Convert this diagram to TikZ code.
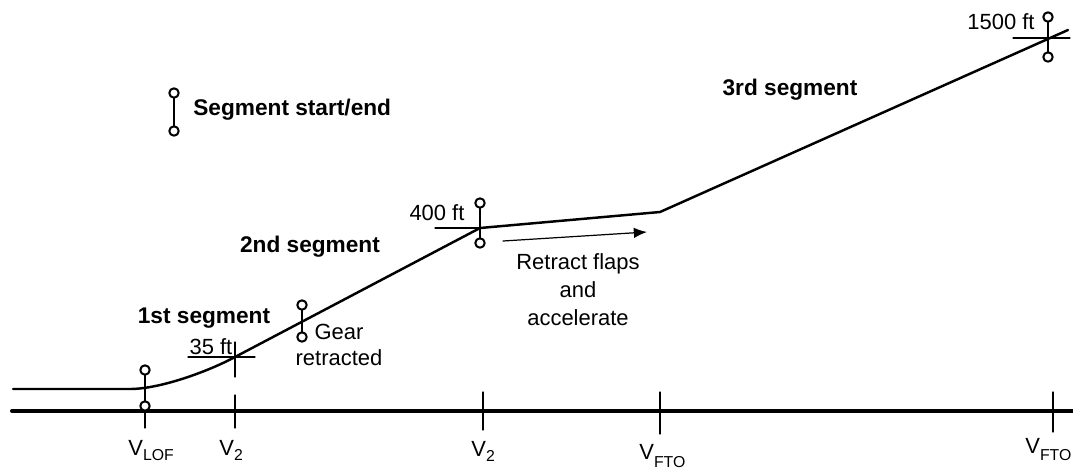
\documentclass[tikz,border=0pt]{standalone}
\usepackage{fontspec}
\setmainfont{Liberation Sans}
\usetikzlibrary{arrows.meta}

\newcommand{\vsub}[2][-3pt]{V\raisebox{#1}{\fontsize{9}{9}\selectfont #2}}

\begin{document}
\begin{tikzpicture}[x=0.02cm,y=-0.02cm,line cap=round,line join=round,
    font=\fontsize{12.5}{15}\selectfont,
    groundline/.style={line width=2.3pt},
    flightpath/.style={line width=1.4pt},
    tickline/.style={line width=0.65pt},
    markline/.style={line width=1.4pt},
    ring/.style={line width=1.15pt,fill=white},
    seglabel/.style={inner sep=0pt,font=\fontsize{12.9}{15}\selectfont\bfseries},
    note/.style={inner sep=0pt,align=center}]
        \useasboundingbox (0,0) rectangle (1073,471);

        % Suelo y trayectoria
        \draw[groundline] (12,411) -- (1073,411);
        \draw[flightpath] (13,389) -- (130,389)
            .. controls (160,389) and (208,371.5) .. (235,357)
            -- (480,228) -- (660,212) -- (1068,30);

        % Marcas de velocidad
        \draw[tickline] (145,406) -- (145,428);
        \draw[tickline] (235,395) -- (235,428);
        \draw[tickline] (483,392) -- (483,430);
        \draw[tickline] (660,392) -- (660,434);
        \draw[tickline] (1053,392) -- (1053,432);
        \node[anchor=base west,inner sep=0pt] (vlof) at (128,455) {\vsub{LOF}};
        \node[anchor=base west,inner sep=0pt] (vtwoa) at (219,455) {\vsub{2}};
        \node[anchor=base west,inner sep=0pt] (vftoa) at (639,459) {\vsub[-5pt]{FTO}};
        \node[anchor=base west,inner sep=0pt] (vtwob) at (471,456) {\vsub{2}};
        \node[anchor=base west,inner sep=0pt] (vftob) at (1025,453) {\vsub[-4pt]{FTO}};

        % Alturas
        \draw[tickline] (188,357) -- (255,357);
        \draw[tickline] (235,342) -- (235,377);
        \node[inner sep=0pt] (h35) at (211,347) {35 ft};
        \draw[tickline] (435,228) -- (480,228);
        \node[inner sep=0pt] (h400) at (437,213) {400 ft};
        \draw[tickline] (1013,38) -- (1070,38);
        \node[inner sep=0pt] (h1500) at (1001,22) {1500 ft};

        % Inicio y fin de segmento
        \draw[markline] (174,93) -- (174,131);
        \draw[ring] (174,93) circle (4.7);
        \draw[ring] (174,131) circle (4.7);
        \node[seglabel,anchor=west] (legend) at (193,110) {Segment start/end};

        \draw[markline] (145,370) -- (145,406);
        \draw[ring] (145,370) circle (4.7);
        \draw[ring] (145,406) circle (4.7);

        \draw[markline] (302,305) -- (302,337);
        \draw[ring] (302,305) circle (4.7);
        \draw[ring] (302,337) circle (4.7);

        \draw[markline] (480,203) -- (480,243);
        \draw[ring] (480,203) circle (4.7);
        \draw[ring] (480,243) circle (4.7);

        \draw[markline] (1048,17) -- (1048,57);
        \draw[ring] (1048,17) circle (4.7);
        \draw[ring] (1048,57) circle (4.7);

        % Segmentos
        \node[seglabel] (seg1) at (204,318) {1st segment};
        \node[seglabel] (seg2) at (310,247) {2nd segment};
        \node[seglabel] (seg3) at (790,90) {3rd segment};

        % Notas
        \node[note,font=\fontsize{12.5}{14.8}\selectfont] (gear) at (339,345) {Gear\\retracted};
        \coordinate (accA) at (503,241);
        \coordinate (accB) at (647,232);
        \draw[line width=0.7pt,-{Latex[length=7.5pt,width=6pt]}] (accA) -- (accB);
        \node[note,font=\fontsize{12.5}{15.9}\selectfont] (flaps) at (578,290) {Retract flaps\\and\\accelerate};

    \end{tikzpicture}
\end{document}
